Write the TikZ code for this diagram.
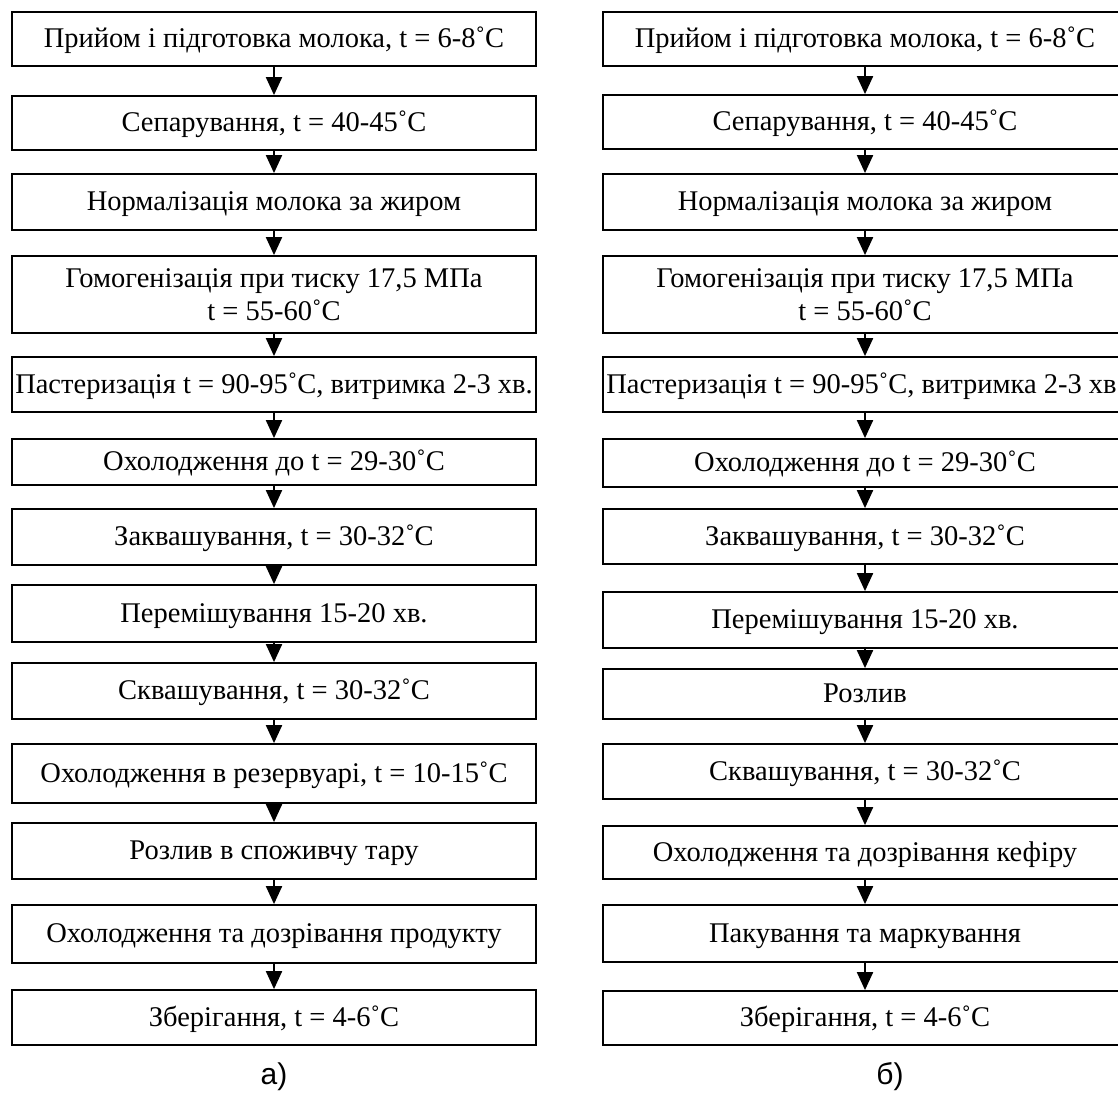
\documentclass[tikz,border=0pt]{standalone}
\usepackage{fontspec}
\setmainfont{Liberation Serif}
\newfontfamily\capfont{Liberation Sans}
\usetikzlibrary{arrows.meta}
\begin{document}
\begin{tikzpicture}[x=1pt,y=-1pt,
  box/.style={draw, line width=1.8pt, minimum width=524pt, inner sep=0pt,
    font=\fontsize{28.5}{33}\selectfont, text height=22pt, text depth=5pt},
  box2/.style={draw, line width=1.8pt, minimum width=524pt, inner sep=0pt,
    font=\fontsize{28.5}{33}\selectfont, align=center},
  arr/.style={-{Triangle[length=18pt,width=16pt]}, line width=2pt},
  captext/.style={font=\capfont\fontsize{30}{33}\selectfont}]
\useasboundingbox (0,0) rectangle (1118,1092);
\clip (0,0) rectangle (1118,1092);
% left column
\node[box, minimum height=54pt] (L1) at (274,39) {Прийом і підготовка молока, t = 6-8˚C};
\node[box, minimum height=54pt] (L2) at (274,123) {Сепарування, t = 40-45˚C};
\node[box, minimum height=56pt] (L3) at (274,202) {Нормалізація молока за жиром};
\node[box2, minimum height=77pt] (L4) at (274,294.5) {Гомогенізація при тиску 17,5 МПа\\t = 55-60˚C};
\node[box, minimum height=55pt] (L5) at (274,384.5) {Пастеризація t = 90-95˚C, витримка 2-3 хв.};
\node[box, minimum height=46pt] (L6) at (274,462) {Охолодження до t = 29-30˚C};
\node[box, minimum height=56pt] (L7) at (274,537) {Заквашування, t = 30-32˚C};
\node[box, minimum height=57pt] (L8) at (274,613.5) {Перемішування 15-20 хв.};
\node[box, minimum height=56pt] (L9) at (274,691) {Сквашування, t = 30-32˚C};
\node[box, minimum height=59pt] (L10) at (274,773.5) {Охолодження в резервуарі, t = 10-15˚C};
\node[box, minimum height=56pt] (L11) at (274,851) {Розлив в споживчу тару};
\node[box, minimum height=58pt] (L12) at (274,934) {Охолодження та дозрівання продукту};
\node[box, minimum height=55pt] (L13) at (274,1017.5) {Зберігання, t = 4-6˚C};
% right column
\node[box, minimum height=54pt] (R1) at (865,39) {Прийом і підготовка молока, t = 6-8˚C};
\node[box, minimum height=54pt] (R2) at (865,122) {Сепарування, t = 40-45˚C};
\node[box, minimum height=56pt] (R3) at (865,202) {Нормалізація молока за жиром};
\node[box2, minimum height=77pt] (R4) at (865,294.5) {Гомогенізація при тиску 17,5 МПа\\t = 55-60˚C};
\node[box, minimum height=55pt] (R5) at (865,384.5) {Пастеризація t = 90-95˚C, витримка 2-3 хв.};
\node[box, minimum height=48pt] (R6) at (865,463) {Охолодження до t = 29-30˚C};
\node[box, minimum height=55pt] (R7) at (865,536.5) {Заквашування, t = 30-32˚C};
\node[box, minimum height=56pt] (R8) at (865,620) {Перемішування 15-20 хв.};
\node[box, minimum height=50pt] (R9) at (865,694) {Розлив};
\node[box, minimum height=55pt] (R10) at (865,771.5) {Сквашування, t = 30-32˚C};
\node[box, minimum height=53pt] (R11) at (865,852.5) {Охолодження та дозрівання кефіру};
\node[box, minimum height=57pt] (R12) at (865,933.5) {Пакування та маркування};
\node[box, minimum height=54pt] (R13) at (865,1018) {Зберігання, t = 4-6˚C};
% arrows
\foreach \a/\b in {1/2,2/3,3/4,4/5,5/6,6/7,7/8,8/9,9/10,10/11,11/12,12/13}{
  \draw[arr] (L\a) -- (L\b);
  \draw[arr] (R\a) -- (R\b);
}
% captions
\node[captext] (ca) at (274,1077) {а)};
\node[captext] (cb) at (890,1077) {б)};
\end{tikzpicture}
\end{document}
